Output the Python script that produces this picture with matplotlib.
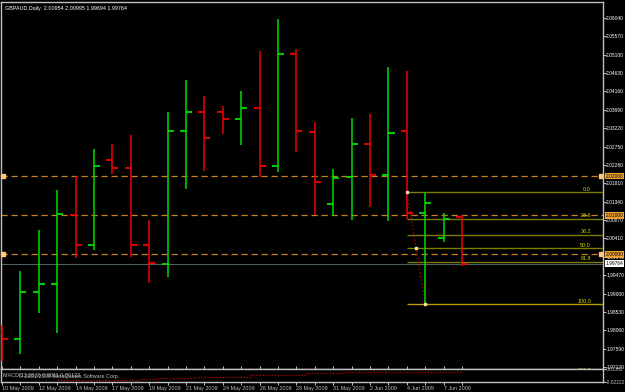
import matplotlib.pyplot as plt

plt.rcParams['font.family'] = ['Liberation Sans', 'DejaVu Sans']

# daily GBPAUD bars
dates = ['10 May 2009', '11 May 2009', '12 May 2009', '13 May 2009', '14 May 2009', '15 May 2009',
         '17 May 2009', '18 May 2009', '19 May 2009', '20 May 2009', '21 May 2009', '22 May 2009',
         '24 May 2009', '25 May 2009', '26 May 2009', '27 May 2009', '28 May 2009', '29 May 2009',
         '31 May 2009', '1 Jun 2009', '2 Jun 2009', '3 Jun 2009', '4 Jun 2009', '5 Jun 2009',
         '7 Jun 2009', '8 Jun 2009']
opens = [1.98019, 1.97840, 1.99032, 1.99252, 2.00998, 2.00247, 2.02402, 2.02198, 2.00232, 1.99747,
         2.03158, 2.03627, 2.03635, 2.03456, 2.03730, 2.02264, 2.05123, 2.03132, 2.01279, 2.01968,
         2.02818, 2.02019, 2.03158, 2.01064, 2.00426, 2.00954]
highs = [1.98197, 1.99576, 2.00623, 2.01644, 2.02009, 2.02698, 2.02818, 2.03048, 2.00878, 2.03635,
         2.04452, 2.04044, 2.03788, 2.04171, 2.05192, 2.06002, 2.05236, 2.03380, 2.02172, 2.03490,
         2.03576, 2.04792, 2.04682, 2.01585, 2.01049, 2.00995]
lows = [1.97286, 1.97449, 1.98496, 1.98001, 1.99915, 2.00104, 2.02045, 1.99941, 1.99269, 1.99430,
        2.01662, 2.02129, 2.03081, 2.02800, 2.01976, 2.02096, 2.02614, 2.01006, 2.00972, 2.00885,
        2.01217, 2.00860, 2.00896, 1.98726, 2.00324, 1.99694]
closes = [1.97840, 1.99047, 1.99252, 2.01031, 2.00247, 2.02256, 2.02198, 2.00247, 1.99780, 2.03158,
          2.03627, 2.02971, 2.03456, 2.03730, 2.02264, 2.05116, 2.03158, 2.01848, 2.01950, 2.02818,
          2.02019, 2.03099, 2.01064, 2.01312, 2.00911, 1.99764]

price_ticks = [2.06040, 2.05570, 2.05100, 2.04630, 2.04160, 2.03690, 2.03220, 2.02750, 2.02280,
               2.01810, 2.01340, 2.00870, 2.00410, 1.99940, 1.99470, 1.99000, 1.98530, 1.98060,
               1.97590, 1.97120]
levels = [2.02, 2.01, 2.00]
fib_levels = [0.0, 23.6, 38.2, 50.0, 61.8, 100.0, 161.8]
fib_hi = 2.01585
fib_lo = 1.98726

# indicator in the lower window
ind_x = list(range(3, 26))
ind_vals = [-0.0175, -0.0173, -0.0172, -0.0165, -0.0163, -0.0160, -0.0132, -0.0130, -0.0093, -0.0092,
            -0.0090, -0.0044, -0.0043, -0.0042, -0.0010, 0.0000, 0.0010, 0.0013, 0.0015, 0.0015,
            0.0015, 0.0015, 0.0015]

up = '#00dd00'
down = '#ee0000'
grey = '#c0c0c0'
fs = 3.9
fs_ax = 3.5

fig = plt.figure(figsize=(6.25, 3.92), dpi=100, facecolor='black')
ax = fig.add_axes([1/625, 23/392, 602/625, 367/392])
ax.set_facecolor('black')
for s in ax.spines.values():
    s.set_color(grey)
    s.set_linewidth(1)

n = len(opens)
x = list(range(n))
cols = [up if closes[i] >= opens[i] else down for i in x]
ax.vlines(x, lows, highs, colors=cols, lw=1.1, zorder=5)
ax.hlines(opens, [i - 0.33 for i in x], x, colors=cols, lw=1.3, zorder=5)
ax.hlines(closes, x, [i + 0.33 for i in x], colors=cols, lw=1.3, zorder=5)

ax.set_xlim(-0.054, 32.66)
ax.set_ylim(1.97074, 2.06443)
ax.set_xticks([])
ax.yaxis.tick_right()
ax.set_yticks(price_ticks)
ax.set_yticklabels(['%.5f' % v for v in price_ticks])
ax.tick_params(axis='y', colors=grey, labelcolor='white', labelsize=fs_ax, length=1.8, width=0.7, pad=0.5)

ytr = ax.get_yaxis_transform()

# horizontal levels
for v in levels:
    ax.axhline(v, color='#c8801e', lw=0.9, dashes=(5, 3), zorder=2)
    ax.text(1.004, v, '%.5f' % v, transform=ytr, fontsize=fs_ax, va='center', ha='left', color='black',
            bbox=dict(facecolor='#f0a030', edgecolor='none', pad=0.6), zorder=10)
for v in [levels[0], levels[2]]:
    ax.plot([0.003, 0.996], [v, v], 's', ms=2.2, color='#ffc878', transform=ytr, zorder=6, clip_on=False)

# current price line
last = closes[-1]
ax.axhline(last, color='#4e6060', lw=0.8, zorder=2)
ax.text(1.004, last, '%.5f' % last, transform=ytr, fontsize=fs_ax, va='center', ha='left', color='black',
        bbox=dict(facecolor='white', edgecolor='none', pad=0.6), zorder=10)

# fibonacci retracement
xmax = ax.get_xlim()[1]
for lv in fib_levels:
    p = fib_hi - lv / 100 * (fib_hi - fib_lo)
    c = '#b8a000' if lv == 100.0 else '#7c7c00'
    ax.hlines(p, 22, xmax, color=c, lw=1.0, zorder=3)
    ax.text(0.98, p + 0.0002, '%.1f' % lv, transform=ytr, fontsize=fs, ha='right', va='bottom',
            color='#d8d800', clip_on=True)
ax.plot([22, 23], [fib_hi, fib_lo], color='#b00000', ls=':', lw=1.0, zorder=4)
ax.plot([22, 22.5, 23], [fib_hi, (fib_hi + fib_lo) / 2, fib_lo], 's', ms=1.6, color='#ffd8b0', zorder=7)

ax.text(0.006, 0.99, 'GBPAUD,Daily  %.5f %.5f %.5f %.5f' % (opens[-1], highs[-1], lows[-1], closes[-1]),
        transform=ax.transAxes, fontsize=fs, va='top', ha='left', color='white')

# lower window
ax2 = fig.add_axes([1/625, 10/392, 602/625, 13/392])
ax2.set_facecolor('black')
for s in ax2.spines.values():
    s.set_color(grey)
    s.set_linewidth(1)
ax2.plot(ind_x, ind_vals, color='#c00000', ls=(0, (1.2, 1.5)), lw=0.8, drawstyle='steps-mid')
ax2.set_xlim(-0.054, 32.66)
ax2.set_ylim(-0.0222, 0.0095)
ax2.set_xticks(x)
ax2.set_xticklabels([d if i % 2 == 0 else '' for i, d in enumerate(dates)])
for lab in ax2.get_xticklabels():
    lab.set_ha('left')
ax2.tick_params(axis='x', colors=grey, labelcolor=grey, labelsize=fs, length=2, width=0.7, pad=1,
                top=True)
ax2.yaxis.tick_right()
ax2.set_yticks([0.0095, -0.0222])
ax2.set_yticklabels(['0.01362', '-0.02222'])
ax2.tick_params(axis='y', colors=grey, labelcolor=grey, labelsize=fs_ax, length=1.8, pad=0.5)
ax2.text(0.004, 0.5, 'MACD(12,26,9) 0.0011 0.00123', transform=ax2.transAxes, fontsize=fs,
         va='center', color=grey)
ax2.text(0.03, 0.45, '\u00a9 2001-2009 MetaQuotes Software Corp.', transform=ax2.transAxes, fontsize=fs,
         va='center', color=grey)

fig.savefig('out.png', dpi=100, facecolor='black')
